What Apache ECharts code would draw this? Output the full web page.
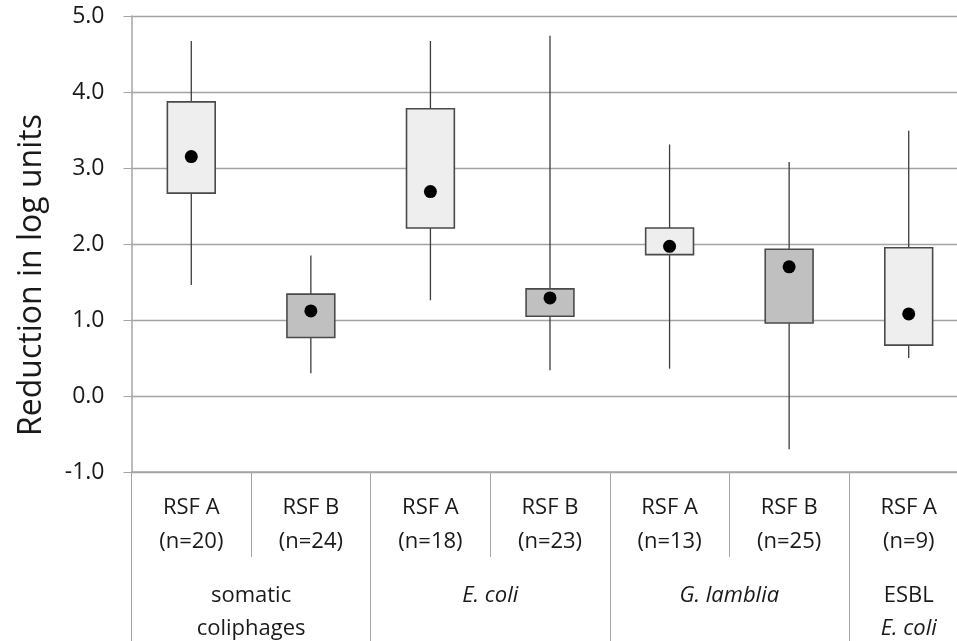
<!DOCTYPE html>
<html>
<head>
<meta charset="utf-8">
<script src="https://cdn.jsdelivr.net/npm/echarts@6/dist/echarts.min.js"></script>
<style>
html,body{margin:0;padding:0;background:#fff;}
#chart{width:957px;height:641px;}
</style>
</head>
<body>
<div id="chart"></div>
<script>
// ---- data ----
const categories = ['RSF A\n(n=20)', 'RSF B\n(n=24)', 'RSF A\n(n=18)', 'RSF B\n(n=23)', 'RSF A\n(n=13)', 'RSF B\n(n=25)', 'RSF A\n(n=9)'];
const filterType = ['A', 'B', 'A', 'B', 'A', 'B', 'A'];
const groups = ['{n|somatic}\n{n|coliphages}', '{i|E. coli}', '{i|G. lamblia}', '{n|ESBL}\n{i|E. coli}'];
const groupCenters = [0.5, 2.5, 4.5, 6];
const whiskerLow = [1.46, 0.30, 1.26, 0.34, 0.36, -0.70, 0.50];
const boxLow = [2.67, 0.77, 2.21, 1.05, 1.86, 0.96, 0.67];
const boxHigh = [3.87, 1.34, 3.78, 1.41, 2.21, 1.93, 1.95];
const whiskerHigh = [4.67, 1.85, 4.67, 4.74, 3.31, 3.08, 3.49];
const dotValue = [3.15, 1.12, 2.69, 1.29, 1.97, 1.70, 1.08];

const boxData = categories.map((c, i) => [i, whiskerLow[i], boxLow[i], boxHigh[i], whiskerHigh[i]]);
const dotData = categories.map((c, i) => [i, dotValue[i]]);

const FONT = 'Open Sans';
const TXT = '#1a1a1a';
const GRID = '#a4a4a4';

const chart = echarts.init(document.getElementById('chart'));
chart.setOption({
  animation: false,
  backgroundColor: '#ffffff',
  textStyle: {fontFamily: FONT},
  grid: {left: 131.5, top: 16, width: 837, height: 456, containLabel: false, outerBoundsMode: 'none'},
  xAxis: [
    {
      type: 'category', data: categories, boundaryGap: true,
      axisLine: {show: true, onZero: false, lineStyle: {color: GRID, width: 1.5}},
      axisTick: {show: true, length: 85, lineStyle: {color: GRID, width: 1}},
      axisLabel: {color: TXT, fontSize: 22, fontFamily: FONT, lineHeight: 34, margin: 19, interval: 0},
      splitLine: {show: false}
    },
    {
      type: 'category', data: categories, boundaryGap: true, position: 'bottom',
      axisLine: {show: false, onZero: false},
      axisTick: {show: true, length: 169, interval: (idx) => idx % 2 === 0, lineStyle: {color: GRID, width: 1}},
      axisLabel: {show: false},
      splitLine: {show: false}
    },
    {
      type: 'value', min: -0.5, max: 6.5, interval: 0.5, position: 'bottom',
      axisLine: {show: false, onZero: false}, axisTick: {show: false}, splitLine: {show: false},
      axisLabel: {
        margin: 107, color: TXT, fontSize: 22, lineHeight: 33, showMinLabel: true, showMaxLabel: true,
        formatter: (v) => {
          const k = groupCenters.findIndex(c => Math.abs(c - v) < 1e-6);
          return k >= 0 ? groups[k] : '';
        },
        rich: {
          n: {fontSize: 22, fontFamily: FONT, color: TXT, lineHeight: 33},
          i: {fontSize: 22, fontFamily: FONT, color: TXT, fontStyle: 'italic', lineHeight: 33}
        }
      }
    }
  ],
  yAxis: {
    type: 'value', min: -1, max: 5, interval: 1,
    axisLine: {show: true, onZero: false, lineStyle: {color: GRID, width: 1.5}},
    axisTick: {show: true, length: 8, lineStyle: {color: GRID}},
    axisLabel: {color: TXT, fontSize: 23, fontFamily: FONT, margin: 27, formatter: (v) => v.toFixed(1)},
    splitLine: {show: true, lineStyle: {color: GRID, width: 1.3}}
  },
  graphic: [{
    type: 'text', x: 32, y: 275, rotation: Math.PI / 2,
    style: {text: 'Reduction in log units', fontSize: 32, fontFamily: FONT, fill: TXT, align: 'center', verticalAlign: 'middle'}
  }],
  series: [
    {
      type: 'custom', xAxisIndex: 0, data: boxData,
      encode: {x: 0, y: [1, 2, 3, 4]},
      renderItem: (params, api) => {
        const x = api.value(0);
        const pLow = api.coord([x, api.value(1)]);
        const pQ1 = api.coord([x, api.value(2)]);
        const pQ3 = api.coord([x, api.value(3)]);
        const pHigh = api.coord([x, api.value(4)]);
        const bw = api.size([1, 0])[0] * 0.4;
        const fill = filterType[params.dataIndex] === 'A' ? '#eeeeee' : '#c0c0c0';
        return {
          type: 'group',
          children: [
            {type: 'line', shape: {x1: pLow[0], y1: pLow[1], x2: pHigh[0], y2: pHigh[1]}, style: {stroke: '#3c3c3c', lineWidth: 1.3}},
            {type: 'rect', shape: {x: pQ3[0] - bw / 2, y: pQ3[1], width: bw, height: pQ1[1] - pQ3[1]}, style: {fill: fill, stroke: '#4a4a4a', lineWidth: 1.6}}
          ]
        };
      }
    },
    {
      type: 'scatter', xAxisIndex: 0, data: dotData, symbol: 'circle', symbolSize: 13,
      itemStyle: {color: '#000000', opacity: 1}
    }
  ]
});
</script>
</body>
</html>
